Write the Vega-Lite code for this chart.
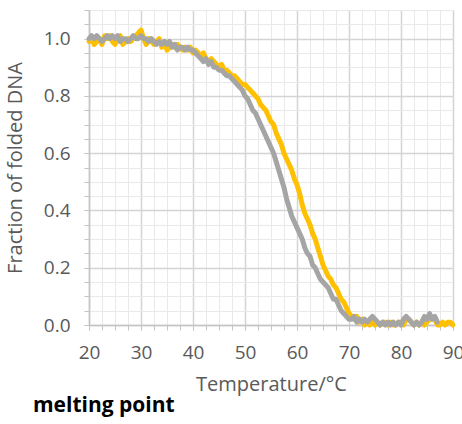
{
  "$schema": "https://vega.github.io/schema/vega-lite/v6.json",
  "autosize": "none",
  "width": 364,
  "height": 315,
  "padding": {"left": 89, "top": 10, "right": 9, "bottom": 99},
  "background": "white",
  "config": {
    "view": {"stroke": null},
    "font": "Open Sans"
  },
  "title": {
    "text": "melting point",
    "orient": "bottom",
    "anchor": "start",
    "frame": "group",
    "dx": -56,
    "offset": 1,
    "font": "Open Sans",
    "fontSize": 21,
    "fontWeight": "bold",
    "color": "#000000"
  },
  "data": {
    "values": [
      {"t": 20, "o": 0.99, "g": 1.00}, {"t": 20.5, "o": 1.00, "g": 1.01}, {"t": 21, "o": 0.98, "g": 1.00}, {"t": 21.5, "o": 0.99, "g": 1.01},
      {"t": 22, "o": 1.00, "g": 1.00}, {"t": 22.5, "o": 0.98, "g": 0.99}, {"t": 23, "o": 1.01, "g": 1.00}, {"t": 23.5, "o": 1.00, "g": 1.01},
      {"t": 24, "o": 1.01, "g": 1.00}, {"t": 24.5, "o": 0.99, "g": 1.01}, {"t": 25, "o": 0.98, "g": 1.00}, {"t": 25.5, "o": 1.00, "g": 1.01},
      {"t": 26, "o": 1.01, "g": 0.99}, {"t": 26.5, "o": 0.98, "g": 1.00}, {"t": 27, "o": 0.99, "g": 1.00}, {"t": 27.5, "o": 1.00, "g": 0.99},
      {"t": 28, "o": 0.99, "g": 1.00}, {"t": 28.5, "o": 1.00, "g": 1.01}, {"t": 29, "o": 1.01, "g": 1.00}, {"t": 29.5, "o": 1.02, "g": 1.00},
      {"t": 30, "o": 1.03, "g": 1.01}, {"t": 30.5, "o": 1.00, "g": 1.00}, {"t": 31, "o": 0.98, "g": 1.00}, {"t": 31.5, "o": 1.00, "g": 0.99},
      {"t": 32, "o": 0.99, "g": 1.00}, {"t": 32.5, "o": 0.98, "g": 0.99}, {"t": 33, "o": 0.99, "g": 0.98}, {"t": 33.5, "o": 1.00, "g": 0.99},
      {"t": 34, "o": 0.97, "g": 0.98}, {"t": 34.5, "o": 0.99, "g": 0.99}, {"t": 35, "o": 0.96, "g": 0.98}, {"t": 35.5, "o": 0.97, "g": 0.99},
      {"t": 36, "o": 0.98, "g": 0.97}, {"t": 36.5, "o": 0.97, "g": 0.98}, {"t": 37, "o": 0.98, "g": 0.96}, {"t": 37.5, "o": 0.97, "g": 0.97},
      {"t": 38, "o": 0.96, "g": 0.97}, {"t": 38.5, "o": 0.97, "g": 0.96}, {"t": 39, "o": 0.96, "g": 0.97}, {"t": 39.5, "o": 0.97, "g": 0.96},
      {"t": 40, "o": 0.95, "g": 0.96}, {"t": 40.5, "o": 0.96, "g": 0.95}, {"t": 41, "o": 0.95, "g": 0.94}, {"t": 41.5, "o": 0.94, "g": 0.93},
      {"t": 42, "o": 0.95, "g": 0.92}, {"t": 42.5, "o": 0.93, "g": 0.93}, {"t": 43, "o": 0.92, "g": 0.91}, {"t": 43.5, "o": 0.93, "g": 0.92},
      {"t": 44, "o": 0.92, "g": 0.90}, {"t": 44.5, "o": 0.91, "g": 0.90}, {"t": 45, "o": 0.90, "g": 0.89}, {"t": 45.5, "o": 0.91, "g": 0.89},
      {"t": 46, "o": 0.89, "g": 0.88}, {"t": 46.5, "o": 0.89, "g": 0.87}, {"t": 47, "o": 0.88, "g": 0.87}, {"t": 47.5, "o": 0.87, "g": 0.86},
      {"t": 48, "o": 0.87, "g": 0.85}, {"t": 48.5, "o": 0.86, "g": 0.84}, {"t": 49, "o": 0.85, "g": 0.83}, {"t": 49.5, "o": 0.84, "g": 0.82},
      {"t": 50, "o": 0.84, "g": 0.80}, {"t": 50.5, "o": 0.83, "g": 0.79}, {"t": 51, "o": 0.82, "g": 0.77}, {"t": 51.5, "o": 0.81, "g": 0.75},
      {"t": 52, "o": 0.80, "g": 0.74}, {"t": 52.5, "o": 0.79, "g": 0.72}, {"t": 53, "o": 0.77, "g": 0.70}, {"t": 53.5, "o": 0.76, "g": 0.68},
      {"t": 54, "o": 0.75, "g": 0.66}, {"t": 54.5, "o": 0.73, "g": 0.64}, {"t": 55, "o": 0.71, "g": 0.62}, {"t": 55.5, "o": 0.70, "g": 0.60},
      {"t": 56, "o": 0.67, "g": 0.57}, {"t": 56.5, "o": 0.65, "g": 0.54}, {"t": 57, "o": 0.63, "g": 0.51}, {"t": 57.5, "o": 0.60, "g": 0.48},
      {"t": 58, "o": 0.58, "g": 0.44}, {"t": 58.5, "o": 0.56, "g": 0.41}, {"t": 59, "o": 0.54, "g": 0.38}, {"t": 59.5, "o": 0.51, "g": 0.36},
      {"t": 60, "o": 0.49, "g": 0.34}, {"t": 60.5, "o": 0.46, "g": 0.32}, {"t": 61, "o": 0.42, "g": 0.30}, {"t": 61.5, "o": 0.39, "g": 0.27},
      {"t": 62, "o": 0.37, "g": 0.25}, {"t": 62.5, "o": 0.35, "g": 0.24}, {"t": 63, "o": 0.32, "g": 0.21}, {"t": 63.5, "o": 0.30, "g": 0.20},
      {"t": 64, "o": 0.27, "g": 0.18}, {"t": 64.5, "o": 0.24, "g": 0.16}, {"t": 65, "o": 0.21, "g": 0.15}, {"t": 65.5, "o": 0.19, "g": 0.14},
      {"t": 66, "o": 0.17, "g": 0.13}, {"t": 66.5, "o": 0.16, "g": 0.11}, {"t": 67, "o": 0.14, "g": 0.09}, {"t": 67.5, "o": 0.13, "g": 0.09},
      {"t": 68, "o": 0.11, "g": 0.07}, {"t": 68.5, "o": 0.09, "g": 0.05}, {"t": 69, "o": 0.08, "g": 0.04}, {"t": 69.5, "o": 0.06, "g": 0.03},
      {"t": 70, "o": 0.04, "g": 0.02}, {"t": 70.5, "o": 0.03, "g": 0.02}, {"t": 71, "o": 0.02, "g": 0.03}, {"t": 71.5, "o": 0.03, "g": 0.01},
      {"t": 72, "o": 0.01, "g": 0.02}, {"t": 72.5, "o": 0.02, "g": 0.01}, {"t": 73, "o": 0.00, "g": 0.02}, {"t": 73.5, "o": 0.01, "g": 0.01},
      {"t": 74, "o": 0.00, "g": 0.02}, {"t": 74.5, "o": 0.01, "g": 0.03}, {"t": 75, "o": 0.00, "g": 0.02}, {"t": 75.5, "o": 0.01, "g": 0.01},
      {"t": 76, "o": 0.00, "g": 0.00}, {"t": 76.5, "o": 0.01, "g": 0.01}, {"t": 77, "o": 0.01, "g": 0.00}, {"t": 77.5, "o": 0.00, "g": 0.01},
      {"t": 78, "o": 0.01, "g": 0.00}, {"t": 78.5, "o": 0.00, "g": 0.01}, {"t": 79, "o": 0.00, "g": 0.00}, {"t": 79.5, "o": 0.01, "g": 0.01},
      {"t": 80, "o": 0.01, "g": 0.00}, {"t": 80.5, "o": 0.00, "g": 0.02}, {"t": 81, "o": 0.02, "g": 0.03}, {"t": 81.5, "o": 0.02, "g": 0.02},
      {"t": 82, "o": 0.01, "g": 0.01}, {"t": 82.5, "o": 0.00, "g": 0.00}, {"t": 83, "o": 0.01, "g": 0.01}, {"t": 83.5, "o": 0.00, "g": 0.00},
      {"t": 84, "o": 0.01, "g": 0.01}, {"t": 84.5, "o": 0.00, "g": 0.03}, {"t": 85, "o": 0.01, "g": 0.02}, {"t": 85.5, "o": 0.02, "g": 0.04},
      {"t": 86, "o": 0.02, "g": 0.02}, {"t": 86.5, "o": 0.02, "g": 0.03}, {"t": 87, "o": 0.00, "g": 0.01}, {"t": 87.5, "o": 0.00, "g": null},
      {"t": 88, "o": 0.01, "g": null}, {"t": 88.5, "o": 0.00, "g": null}, {"t": 89, "o": 0.01, "g": null}, {"t": 89.5, "o": 0.01, "g": null},
      {"t": 90, "o": 0.00, "g": null}
    ]
  },
  "layer": [
    {
      "mark": {"type": "line", "color": "#FFC000", "strokeWidth": 5, "strokeJoin": "round", "strokeCap": "round"},
      "encoding": {
        "x": {
          "field": "t", "type": "quantitative",
          "scale": {"domain": [20, 90], "nice": false, "zero": false},
          "axis": {
            "orient": "bottom",
            "values": [20, 22.5, 25, 27.5, 30, 32.5, 35, 37.5, 40, 42.5, 45, 47.5, 50, 52.5, 55, 57.5, 60, 62.5, 65, 67.5, 70, 72.5, 75, 77.5, 80, 82.5, 85, 87.5, 90],
            "labels": false, "title": null, "domain": false,
            "grid": true, "gridColor": "#e9e9e9", "gridWidth": 1,
            "ticks": true, "tickSize": 5, "tickColor": "#c4c4c4", "tickWidth": 1
          }
        },
        "y": {
          "field": "o", "type": "quantitative",
          "scale": {"domain": [0, 1.1], "nice": false},
          "axis": {
            "orient": "left",
            "values": [0, 0.05, 0.1, 0.15, 0.2, 0.25, 0.3, 0.35, 0.4, 0.45, 0.5, 0.55, 0.6, 0.65, 0.7, 0.75, 0.8, 0.85, 0.9, 0.95, 1.0, 1.05, 1.1],
            "labels": false, "title": null, "domain": false,
            "grid": true, "gridColor": "#e9e9e9", "gridWidth": 1,
            "ticks": true, "tickSize": 5, "tickColor": "#c4c4c4", "tickWidth": 1
          }
        }
      }
    },
    {
      "mark": {"type": "line", "color": "#A5A5A5", "strokeWidth": 5, "strokeJoin": "round", "strokeCap": "round"},
      "encoding": {
        "x": {
          "field": "t", "type": "quantitative",
          "axis": {
            "orient": "bottom",
            "values": [20, 30, 40, 50, 60, 70, 80, 90],
            "format": "d",
            "title": "Temperature/°C",
            "titleFont": "Open Sans", "titleFontSize": 20, "titleFontWeight": "normal", "titleColor": "#595959", "titlePadding": 12,
            "labelFont": "Open Sans", "labelFontSize": 19, "labelColor": "#595959", "labelPadding": 13, "labelFlush": false,
            "domain": true, "domainColor": "#c4c4c4", "domainWidth": 1.5,
            "grid": true, "gridColor": "#d4d4d4", "gridWidth": 1.5,
            "ticks": true, "tickSize": 5, "tickColor": "#c4c4c4", "tickWidth": 1
          }
        },
        "y": {
          "field": "g", "type": "quantitative",
          "axis": {
            "orient": "left",
            "values": [0, 0.2, 0.4, 0.6, 0.8, 1.0],
            "format": ".1f",
            "title": "Fraction of folded DNA",
            "titleFont": "Open Sans", "titleFontSize": 20, "titleFontWeight": "normal", "titleColor": "#595959", "titlePadding": 18,
            "labelFont": "Open Sans", "labelFontSize": 19, "labelColor": "#595959", "labelPadding": 14,
            "domain": true, "domainColor": "#c4c4c4", "domainWidth": 1.5,
            "grid": true, "gridColor": "#d4d4d4", "gridWidth": 1.5,
            "ticks": true, "tickSize": 5, "tickColor": "#c4c4c4", "tickWidth": 1
          }
        }
      }
    }
  ],
  "resolve": {"axis": {"x": "independent", "y": "independent"}}
}
